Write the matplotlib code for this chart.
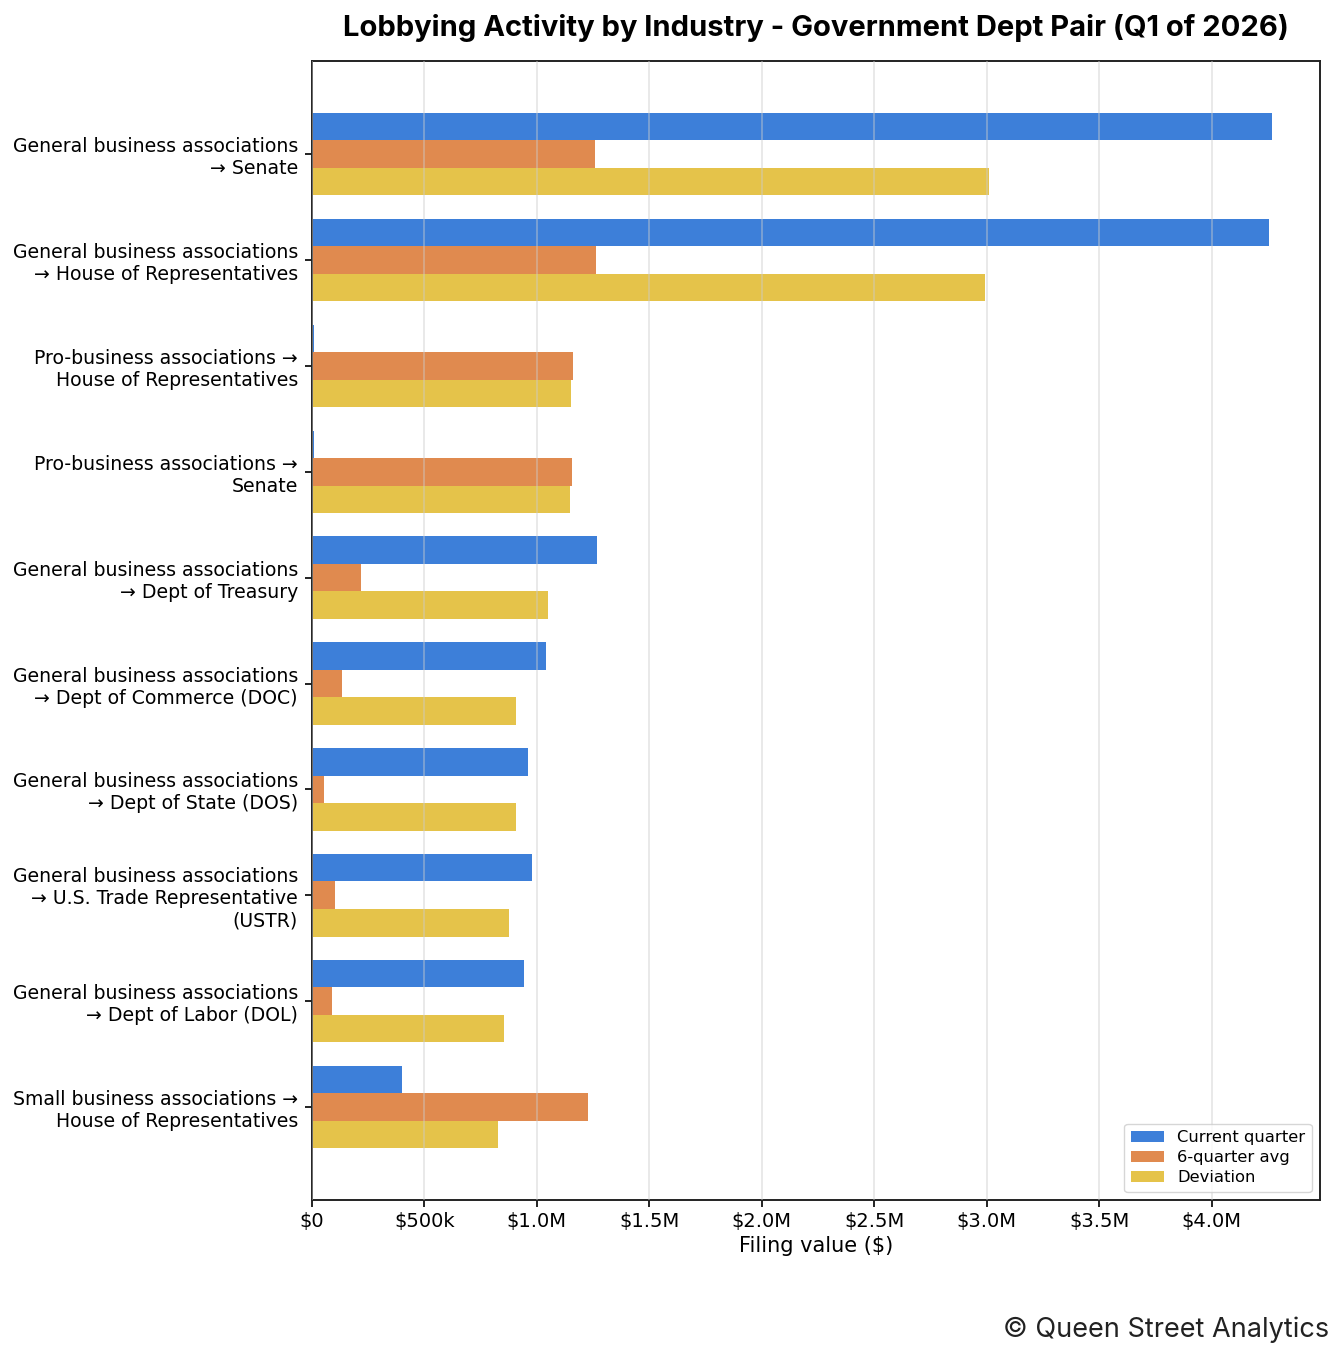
import matplotlib
matplotlib.use("Agg")
import matplotlib.pyplot as plt
import numpy as np
from matplotlib.ticker import FuncFormatter

# industry -> department pairs, top to bottom
pairs = [
    "General business associations\n\u2192 Senate",
    "General business associations\n\u2192 House of Representatives",
    "Pro-business associations \u2192\nHouse of Representatives",
    "Pro-business associations \u2192\nSenate",
    "General business associations\n\u2192 Dept of Treasury",
    "General business associations\n\u2192 Dept of Commerce (DOC)",
    "General business associations\n\u2192 Dept of State (DOS)",
    "General business associations\n\u2192 U.S. Trade Representative\n(USTR)",
    "General business associations\n\u2192 Dept of Labor (DOL)",
    "Small business associations \u2192\nHouse of Representatives",
]

# values in $
current = [4267000, 4253000, 8000, 8000, 1267000, 1040000, 960000, 978000, 942000, 400000]
avg6 = [1258000, 1262000, 1160000, 1156000, 218000, 133000, 53000, 102000, 89000, 1227000]
deviation = [3009000, 2991000, 1152000, 1148000, 1049000, 907000, 907000, 876000, 853000, 827000]

blue = "#3d7fd9"
orange = "#e08a4f"
yellow = "#e5c34a"


def money(v, pos):
    if v == 0:
        return "$0"
    if v >= 1e6:
        return "$%.1fM" % (v / 1e6)
    return "$%dk" % (v / 1e3)


fig, ax = plt.subplots(figsize=(13.44, 13.59), dpi=100)
fig.subplots_adjust(left=0.232, right=0.982, top=0.955, bottom=0.117)

y = np.arange(len(pairs))
h = 0.26
ax.barh(y - h, current, height=h, color=blue, label="Current quarter")
ax.barh(y, avg6, height=h, color=orange, label="6-quarter avg")
ax.barh(y + h, deviation, height=h, color=yellow, label="Deviation")

ax.set_yticks(y)
ax.set_yticklabels(pairs, fontsize=13.6)
ax.invert_yaxis()

ax.xaxis.set_major_locator(plt.MultipleLocator(500000))
ax.xaxis.set_major_formatter(FuncFormatter(money))
ax.tick_params(axis="x", labelsize=14)
ax.tick_params(axis="y", pad=5)
ax.set_xlabel("Filing value ($)", fontsize=15)

ax.grid(axis="x", color="#cccccc", alpha=0.5, linewidth=1.2)
ax.set_axisbelow(False)
for s in ax.spines.values():
    s.set_color("#222222")
    s.set_linewidth(1.4)
ax.tick_params(length=5, width=1.4, color="#222222")

ax.set_title("Lobbying Activity by Industry - Government Dept Pair (Q1 of 2026)",
             fontsize=21, fontweight="bold", family="Inter", pad=18)
ax.legend(loc="lower right", fontsize=11.8, labelspacing=0.3)

fig.text(0.989, 0.012, "\u00a9 Queen Street Analytics", ha="right", va="bottom",
         fontsize=19.5, family="Inter", color="#222222")

fig.savefig("out.png", dpi=100)
